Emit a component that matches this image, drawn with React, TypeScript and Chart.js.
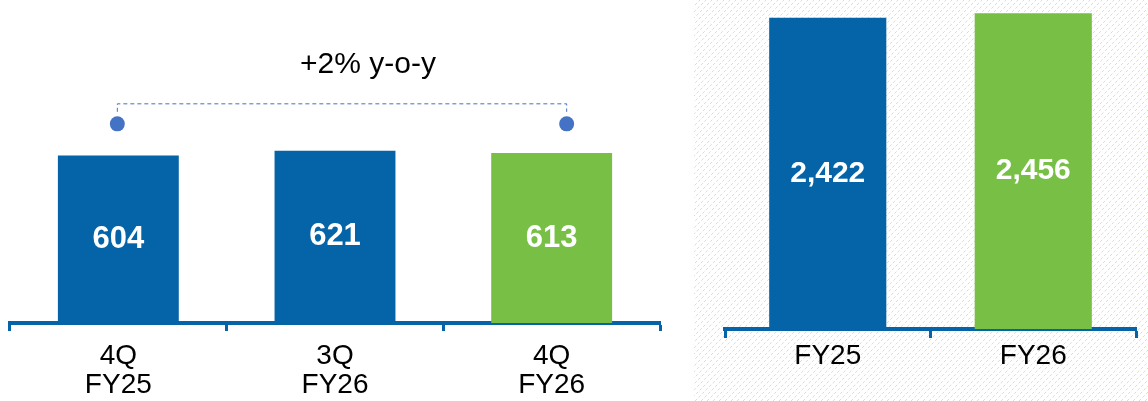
import React, { useEffect, useRef } from "react";
import { Chart, registerables } from "chart.js";

Chart.register(...registerables);

const quarterLabels: string[][] = [["4Q", "FY25"], ["3Q", "FY26"], ["4Q", "FY26"]];
const quarterValues: number[] = [604, 621, 613];
const yearLabels: string[] = ["FY25", "FY26"];
const yearValues: number[] = [2422, 2456];
const yoyText = "+2% y-o-y";

const BLUE = "#0563A8";
const GREEN = "#77BF45";
const DOT = "#4472C4";
const FONT = "'Liberation Sans', Arial, sans-serif";

const valueLabelPlugin = (size: number) => ({
  id: "valueLabels" + size,
  afterDatasetsDraw(chart: any) {
    const ctx = chart.ctx;
    const meta = chart.getDatasetMeta(0);
    const data = chart.data.datasets[0].data as number[];
    ctx.save();
    ctx.fillStyle = "#ffffff";
    ctx.font = `bold ${size}px ${FONT}`;
    ctx.textAlign = "center";
    ctx.textBaseline = "middle";
    meta.data.forEach((el: any, i: number) => {
      const y = (el.y + el.base) / 2;
      ctx.fillText(data[i].toLocaleString("en-US"), el.x, y);
    });
    ctx.restore();
  },
});

const yoyPlugin = {
  id: "yoy",
  afterDraw(chart: any) {
    const ctx = chart.ctx;
    const meta = chart.getDatasetMeta(0);
    const els = meta.data as any[];
    if (!els.length) return;
    const topMost = Math.min(...els.map((e) => e.y));
    const dotY = topMost - 27;
    const lineY = dotY - 20;
    const x1 = els[0].x - 1;
    const x2 = els[els.length - 1].x + 15;
    ctx.save();
    ctx.strokeStyle = DOT;
    ctx.lineWidth = 1;
    ctx.setLineDash([4, 3]);
    ctx.beginPath();
    ctx.moveTo(x1, lineY + 8);
    ctx.lineTo(x1, lineY);
    ctx.lineTo(x2, lineY);
    ctx.lineTo(x2, lineY + 8);
    ctx.stroke();
    ctx.setLineDash([]);
    ctx.fillStyle = DOT;
    [x1, x2].forEach((x) => {
      ctx.beginPath();
      ctx.arc(x, dotY, 7.5, 0, Math.PI * 2);
      ctx.fill();
    });
    ctx.fillStyle = "#000";
    ctx.font = `30px ${FONT}`;
    ctx.textAlign = "center";
    ctx.textBaseline = "middle";
    ctx.fillText(yoyText, (x1 + x2) / 2 + 26, dotY - 59);
    ctx.restore();
  },
};

const hatchPlugin = {
  id: "hatch",
  beforeDraw(chart: any) {
    const ctx = chart.ctx;
    const w = chart.width;
    const h = chart.height;
    const x0 = 14;
    ctx.save();
    ctx.beginPath();
    ctx.rect(x0, 0, w - x0, h);
    ctx.clip();
    ctx.strokeStyle = "#CFE7BF";
    ctx.lineWidth = 1;
    ctx.setLineDash([3, 2]);
    for (let k = -h; k < w + h; k += 6) {
      ctx.beginPath();
      ctx.moveTo(x0 + k, h);
      ctx.lineTo(x0 + k + h, 0);
      ctx.stroke();
    }
    ctx.restore();
  },
};

function xScale(tickLength: number, padding: number, height: number, lineHeight: number) {
  return {
    z: 1,
    offset: true,
    border: { display: true, color: BLUE, width: 4 },
    grid: {
      offset: true,
      drawOnChartArea: false,
      drawTicks: true,
      tickLength,
      tickWidth: 3,
      tickColor: BLUE,
      color: BLUE,
    },
    ticks: {
      color: "#000",
      padding,
      maxRotation: 0,
      autoSkip: false,
      font: { family: FONT, size: 28, lineHeight: lineHeight },
    },
    afterFit(scale: any) {
      scale.height = height;
    },
  };
}

export default function App() {
  const leftRef = useRef<HTMLCanvasElement | null>(null);
  const rightRef = useRef<HTMLCanvasElement | null>(null);

  useEffect(() => {
    if (!leftRef.current || !rightRef.current) return;
    const left = new Chart(leftRef.current, {
      type: "bar",
      data: {
        labels: quarterLabels as any,
        datasets: [
          {
            data: quarterValues,
            backgroundColor: [BLUE, BLUE, GREEN],
            borderWidth: 0,
            barPercentage: 0.558,
            categoryPercentage: 1,
          },
        ],
      },
      options: {
        animation: false,
        responsive: true,
        maintainAspectRatio: false,
        layout: { padding: { left: 10, right: 20, top: 0, bottom: 0 } },
        plugins: { legend: { display: false }, tooltip: { enabled: false } },
        scales: {
          x: xScale(8, 11, 78, 1.02) as any,
          y: { display: false, min: 0, max: 1165 },
        },
      },
      plugins: [valueLabelPlugin(31), yoyPlugin],
    });
    const right = new Chart(rightRef.current, {
      type: "bar",
      data: {
        labels: yearLabels,
        datasets: [
          {
            data: yearValues,
            backgroundColor: [BLUE, GREEN],
            borderWidth: 0,
            barPercentage: 0.57,
            categoryPercentage: 1,
          },
        ],
      },
      options: {
        animation: false,
        responsive: true,
        maintainAspectRatio: false,
        layout: { padding: { left: 45, right: 12, top: 0, bottom: 0 } },
        plugins: { legend: { display: false }, tooltip: { enabled: false } },
        scales: {
          x: xScale(9, 4, 72, 1.02) as any,
          y: { display: false, min: 0, max: 2560 },
        },
      },
      plugins: [hatchPlugin, valueLabelPlugin(30)],
    });
    return () => {
      left.destroy();
      right.destroy();
    };
  }, []);

  return (
    <div style={{ position: "absolute", left: 0, top: 0, width: 1148, height: 401, background: "#fff" }}>
      <div style={{ position: "absolute", left: 0, top: 0, width: 680, height: 401 }}>
        <canvas ref={leftRef} />
      </div>
      <div style={{ position: "absolute", left: 680, top: 0, width: 468, height: 401 }}>
        <canvas ref={rightRef} />
      </div>
    </div>
  );
}
